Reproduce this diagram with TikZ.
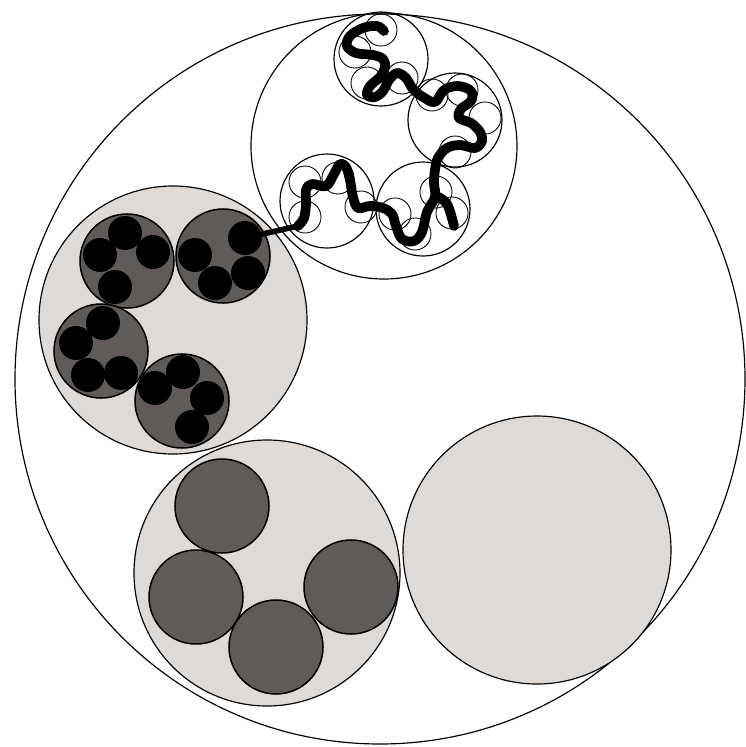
\documentclass[tikz,border=0pt]{standalone}
\usetikzlibrary{calc}
\definecolor{shell}{RGB}{224,218,214}
\definecolor{core}{RGB}{96,91,89}
\begin{document}
\begin{tikzpicture}[x=0.03cm,y=-0.03cm,
  ring/.style={draw=black,line width=1pt},
  blob/.style={ring,fill=shell},
  grain/.style={ring,line width=1.3pt,fill=core},
  loop/.style={draw=black,line width=0.75pt},
  link/.style={line width=4.8pt,line cap=round},
  chain/.style={line width=8.3pt,line cap=round,line join=round}]
\useasboundingbox (0,0) rectangle (745,747);
\draw[ring] (380,379) circle (365);
% empty globule
\draw[blob] (537,550) circle (134);
% globule with four cores
\draw[blob] (267,573) circle (133);
\foreach \p in {(222,506),(196,597),(276,647),(351,587)} \draw[grain] \p circle (47);
% globule with beaded cores
\draw[blob] (173,320) circle (134);
\foreach \p in {(127,261),(223,256),(101,351),(182,401)} \draw[grain] \p circle (47);
\foreach \p in {(125,233),(100,255),(153,252),(115,287),
                (195,255),(245,238),(215,283),(248,273),
                (103,323),(76,343),(88,375),(121,373),
                (183,372),(155,388),(207,398),(192,427)} \fill \p circle (17);
% unfolded globule
\draw[ring] (384,146) circle (133);
\foreach \p in {(381,59),(455,120),(423,209),(327,201)} \draw[ring] \p circle (47);
\foreach \p in {(381,30),(355,52),(367,83),(402,78),
                (432,95),(462,90),(485,118),(455,152),
                (395,214),(415,234),(436,192),(452,213),
                (305,182),(305,217),(338,178),(361,207)} \draw[loop] \p circle (16);
\coordinate (bead) at (245,238);
\coordinate (tail) at (298,226);
\draw[link] (bead) -- (tail);
\draw[chain] plot[smooth,tension=0.6] coordinates {(298,226) (304,218) (306,204) (306,190)
  (312,184) (326,186) (334,174) (340,164) (346,167) (350,180) (353,197) (358,208)
  (370,206) (383,208) (392,214) (396,226) (402,239) (414,241) (422,232) (427,212)
  (435,197) (434,183) (435,170) (438,158) (447,148) (460,145) (475,148) (482,141)
  (480,132) (471,123) (459,118) (461,109) (471,101) (471,91) (458,86) (444,90)
  (435,102) (423,97) (413,89) (406,78) (397,73) (389,80) (383,91) (375,97) (367,95)
  (370,86) (380,77) (385,67) (383,59) (373,55) (356,53) (347,46) (350,36) (363,28) (377,26) (384,31)};
\draw[chain] plot[smooth,tension=0.6] coordinates {(436,196) (447,204) (454,226)};
\end{tikzpicture}
\end{document}
